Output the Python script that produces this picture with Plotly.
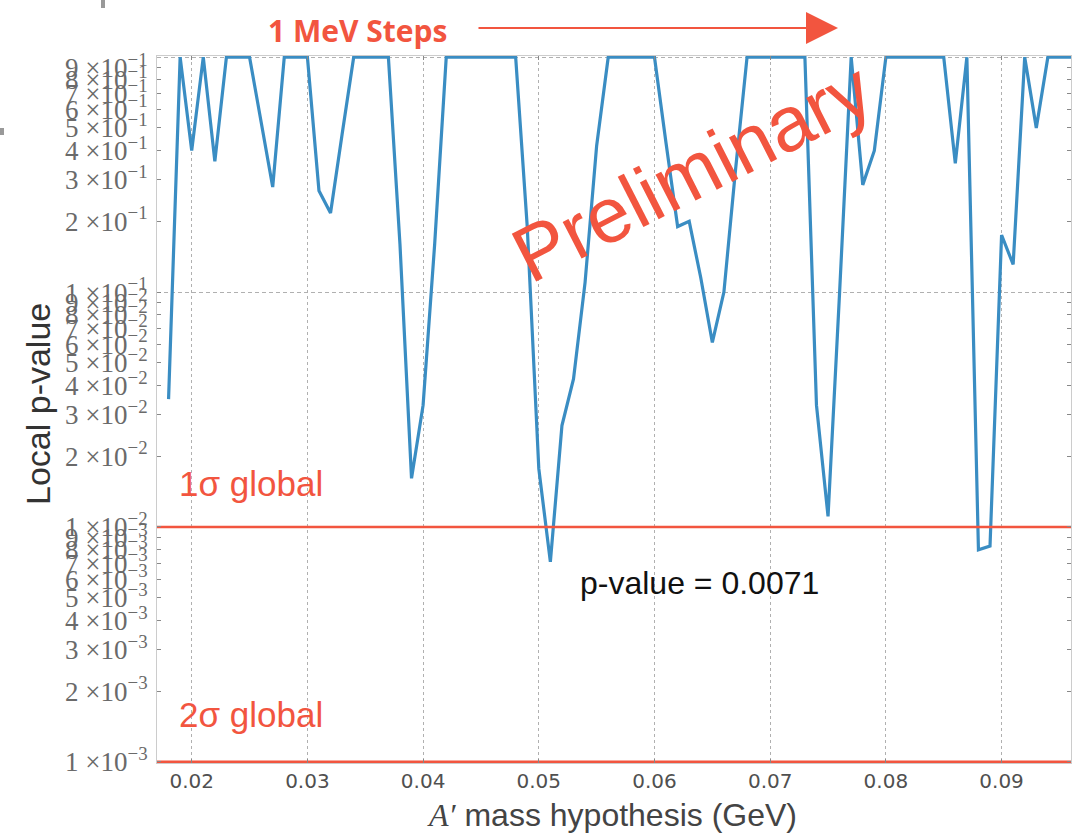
import plotly.graph_objects as go

# A' mass hypotheses scanned in 1 MeV steps (GeV)
mass_gev = [
    0.018, 0.019, 0.020, 0.021, 0.022, 0.023, 0.024, 0.025, 0.026, 0.027,
    0.028, 0.029, 0.030, 0.031, 0.032, 0.033, 0.034, 0.035, 0.036, 0.037,
    0.038, 0.039, 0.040, 0.041, 0.042, 0.043, 0.044, 0.045, 0.046, 0.047,
    0.048, 0.049, 0.050, 0.051, 0.052, 0.053, 0.054, 0.055, 0.056, 0.057,
    0.058, 0.059, 0.060, 0.061, 0.062, 0.063, 0.064, 0.065, 0.066, 0.067,
    0.068, 0.069, 0.070, 0.071, 0.072, 0.073, 0.074, 0.075, 0.076, 0.077,
    0.078, 0.079, 0.080, 0.081, 0.082, 0.083, 0.084, 0.085, 0.086, 0.087,
    0.088, 0.089, 0.090, 0.091, 0.092, 0.093, 0.094, 0.095, 0.096,
]

# Local p-value at each mass hypothesis
local_p = [
    0.035, 1.0, 0.40, 1.0, 0.36, 1.0, 1.0, 1.0, 0.53, 0.28,
    1.0, 1.0, 1.0, 0.27, 0.217, 0.47, 1.0, 1.0, 1.0, 1.0,
    0.16, 0.0161, 0.033, 0.16, 1.0, 1.0, 1.0, 1.0, 1.0, 1.0,
    1.0, 0.19, 0.0177, 0.0071, 0.027, 0.0427, 0.11, 0.42, 1.0, 1.0,
    1.0, 1.0, 1.0, 0.43, 0.19, 0.20, 0.115, 0.061, 0.10, 0.33,
    1.0, 1.0, 1.0, 1.0, 1.0, 1.0, 0.033, 0.0111, 0.10, 1.0,
    0.286, 0.40, 1.0, 1.0, 1.0, 1.0, 1.0, 1.0, 0.353, 1.0,
    0.0080, 0.0083, 0.175, 0.131, 1.0, 0.50, 1.0, 1.0, 1.0,
]

# Global significance thresholds expressed as local p-values
sigma_labels = ["1σ global", "2σ global"]
sigma_levels = [1e-2, 1e-3]

min_p_label = "p-value = 0.0071"

x_ticks = [0.02, 0.03, 0.04, 0.05, 0.06, 0.07, 0.08, 0.09]
x_tick_text = ["0.02", "0.03", "0.04", "0.05", "0.06", "0.07", "0.08", "0.09"]

y_ticks = [1e-3, 2e-3, 3e-3, 4e-3, 5e-3, 6e-3, 7e-3, 8e-3, 9e-3,
           1e-2, 2e-2, 3e-2, 4e-2, 5e-2, 6e-2, 7e-2, 8e-2, 9e-2,
           1e-1, 2e-1, 3e-1, 4e-1, 5e-1, 6e-1, 7e-1, 8e-1, 9e-1]
y_tick_text = ["%d ×10<sup>−%d</sup>" % (m, e)
               for e in (3, 2, 1) for m in range(1, 10)]
y_decades = [1e-3, 1e-2, 1e-1, 1.0]

RED = "#F2553F"
BLUE = "#3A8DC3"
W, H = 1085, 834
L, R, T, B = 157, 14, 56, 71
PW, PH = W - L - R, H - T - B


def px(xp):
    return (xp - L) / PW


def py(yp):
    return (H - B - yp) / PH


fig = go.Figure()

fig.add_trace(go.Scatter(
    x=mass_gev, y=local_p, mode="lines",
    line=dict(color=BLUE, width=3.2), showlegend=False, hoverinfo="skip",
))

for lvl in sigma_levels:
    fig.add_trace(go.Scatter(
        x=[0.017, 0.096], y=[lvl, lvl], mode="lines",
        line=dict(color=RED, width=2.6), showlegend=False, hoverinfo="skip",
    ))

axis_font = dict(family="DejaVu Sans", size=20, color="#505050")

fig.update_layout(
    width=W, height=H,
    margin=dict(l=L, r=R, t=T, b=B),
    paper_bgcolor="white", plot_bgcolor="white",
    xaxis=dict(
        range=[0.017, 0.096], tickvals=x_ticks, ticktext=x_tick_text,
        showgrid=True, gridcolor="#b0b0b0", griddash="3px,3px", gridwidth=1,
        ticks="inside", ticklen=4, tickcolor="#888", mirror="ticks",
        showline=True, linecolor="#cccccc", linewidth=1,
        tickfont=axis_font, zeroline=False,
    ),
    yaxis=dict(
        type="log", range=[-3.005, 0.005],
        tickvals=y_ticks, ticktext=y_tick_text,
        showgrid=False, ticks="inside", ticklen=4, tickcolor="#888",
        mirror="ticks", showline=True, linecolor="#cccccc", linewidth=1,
        tickfont=dict(family="Liberation Serif", size=27, color="#6a6a6a"),
        ticklabelstandoff=3, zeroline=False,
    ),
    yaxis2=dict(
        type="log", range=[-3.005, 0.005], overlaying="y",
        tickvals=y_decades, showticklabels=False, ticks="",
        showgrid=True, gridcolor="#b0b0b0", griddash="4px,3px", gridwidth=1,
        zeroline=False,
    ),
)

# invisible trace so the decade grid axis is drawn
fig.add_trace(go.Scatter(x=[0.05], y=[0.5], yaxis="y2", mode="markers",
                         marker=dict(opacity=0), showlegend=False,
                         hoverinfo="skip"))

ann = []
ann.append(dict(text="<b>1 MeV Steps</b>", x=px(357), y=py(30),
                font=dict(family="Open Sans", size=30, color=RED)))
ann.append(dict(text="", x=px(838), y=py(28), ax=477 - 838, ay=0,
                showarrow=True, arrowhead=2, arrowsize=3.2, arrowwidth=2,
                arrowcolor=RED))
ann.append(dict(text="Preliminary", x=px(692), y=py(172), textangle=-27,
                font=dict(family="Liberation Sans", size=78, color=RED)))
for lbl, yp in zip(sigma_labels, [483, 714]):
    ann.append(dict(text=lbl, x=px(251), y=py(yp),
                    font=dict(family="Liberation Sans", size=35, color=RED)))
ann.append(dict(text=min_p_label, x=px(699), y=py(583),
                font=dict(family="Liberation Sans", size=32, color="#111111")))
ann.append(dict(text="Local p-value", x=px(38), y=py(404), textangle=-90,
                font=dict(family="Liberation Sans", size=34, color="#333333")))
ann.append(dict(
    text="<i><span style='font-family:Liberation Serif'>A′</span></i> mass hypothesis (GeV)",
    x=px(612), y=py(815),
    font=dict(family="Liberation Sans", size=32, color="#444444")))

for a in ann:
    a.setdefault("showarrow", False)
    a["xref"] = "paper"
    a["yref"] = "paper"
    a["xanchor"] = "center"
    a["yanchor"] = "middle"
fig.update_layout(annotations=ann)

# small marks at the slide edge
fig.add_shape(type="rect", xref="paper", yref="paper",
              x0=px(101), x1=px(105), y0=py(8), y1=py(0),
              fillcolor="#999999", line=dict(width=0))
fig.add_shape(type="rect", xref="paper", yref="paper",
              x0=px(0), x1=px(4), y0=py(135), y1=py(128),
              fillcolor="#999999", line=dict(width=0))

fig.write_html("out.html")
